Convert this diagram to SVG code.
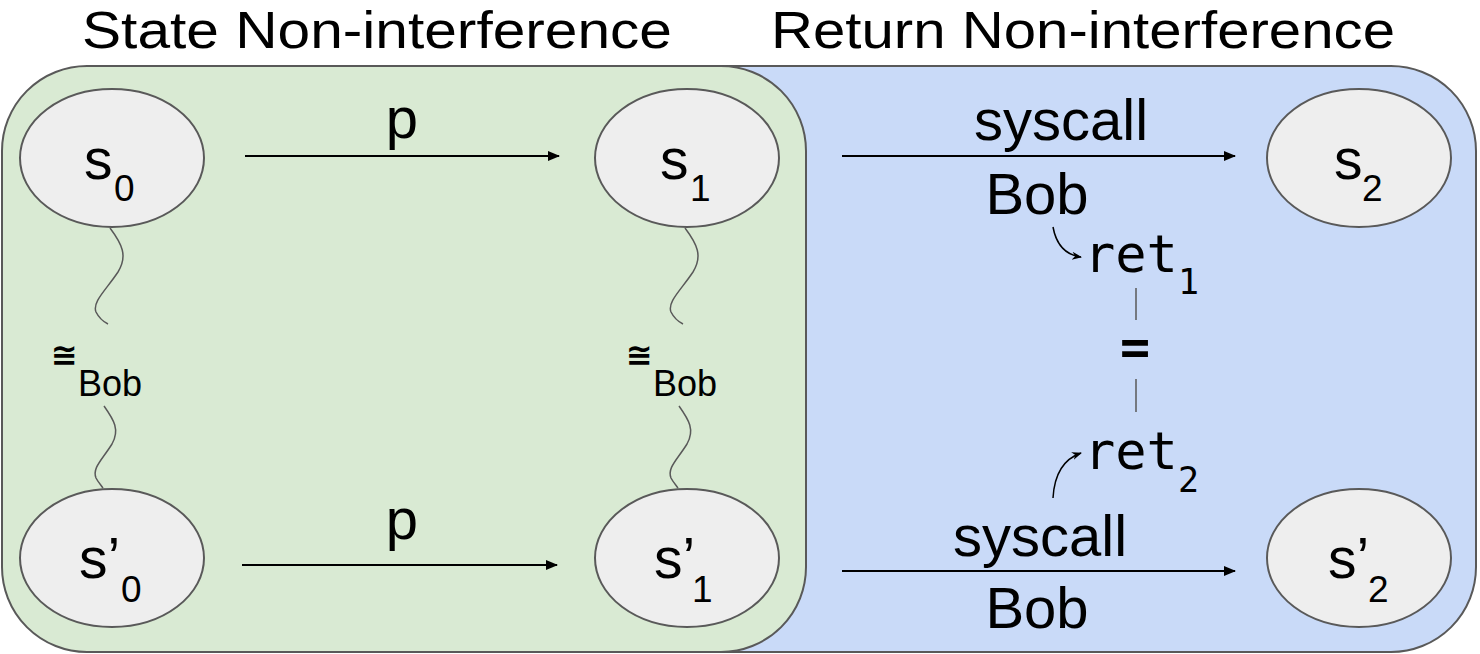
<svg xmlns="http://www.w3.org/2000/svg" width="1480" height="654" viewBox="0 0 1480 654">
  <style>
    .title { font-family: "Liberation Sans", Arial, sans-serif; font-size: 52px; fill: #000; }
    .lbl { font-family: "Liberation Sans", Arial, sans-serif; font-size: 58px; fill: #000; }
    .st { font-family: "Liberation Sans", Arial, sans-serif; font-size: 57px; fill: #000; }
    .sub { font-family: "Liberation Sans", Arial, sans-serif; font-size: 37px; fill: #000; }
    .eq { font-family: "DejaVu Sans", sans-serif; font-size: 32px; font-weight: bold; fill: #000; }
    .bob { font-family: "Liberation Sans", Arial, sans-serif; font-size: 36px; fill: #000; }
    .mono { font-family: "DejaVu Sans Mono", "Liberation Mono", monospace; font-size: 52px; fill: #000; }
    .monosub { font-family: "DejaVu Sans Mono", "Liberation Mono", monospace; font-size: 35px; fill: #000; }
    .region { stroke: #595959; stroke-width: 2; }
    .node { fill: #eeeeee; stroke: #595959; stroke-width: 2; }
    .edge { stroke: #000; stroke-width: 2; fill: none; }
    .wave { stroke: #595959; stroke-width: 1.5; fill: none; }
    .bar { stroke: #595959; stroke-width: 1.5; }
  </style>
  <defs>
    <marker id="arrow" viewBox="0 0 12 10" refX="11" refY="5" markerWidth="12" markerHeight="10" markerUnits="userSpaceOnUse" orient="auto">
      <path d="M0,0 L12,5 L0,10 Z" fill="#000"/>
    </marker>
    <marker id="arrowSmall" viewBox="0 0 10 10" refX="9" refY="5" markerWidth="10" markerHeight="10" markerUnits="userSpaceOnUse" orient="auto">
      <path d="M0,1 L10,5 L0,9 L3,5 Z" fill="#000"/>
    </marker>
  </defs>

  <!-- section titles -->
  <text class="title" x="82" y="48" textLength="590" lengthAdjust="spacingAndGlyphs">State Non-interference</text>
  <text class="title" x="771" y="48" textLength="624" lengthAdjust="spacingAndGlyphs">Return Non-interference</text>

  <!-- regions -->
  <g id="region-return">
    <rect class="region" x="300" y="66" width="1176" height="586" rx="85" ry="85" fill="#c9daf8"/>
  </g>
  <g id="region-state">
    <rect class="region" x="2" y="66" width="804" height="586" rx="85" ry="85" fill="#d9ead3"/>
  </g>

  <!-- connectors -->
  <g id="connectors">
    <line class="edge" x1="245" y1="156" x2="559" y2="156" marker-end="url(#arrow)"/>
    <line class="edge" x1="242" y1="565" x2="557" y2="565" marker-end="url(#arrow)"/>
    <line class="edge" x1="842" y1="156" x2="1235" y2="156" marker-end="url(#arrow)"/>
    <line class="edge" x1="842" y1="571" x2="1235" y2="571" marker-end="url(#arrow)"/>

    <!-- Bob-equivalence squiggles -->
    <path class="wave" d="M110,228 C122,244 128,256 118,272 C106,290 92,302 96,312 C99,318 104,322 108,324"/>
    <path class="wave" d="M104,406 C114,420 120,430 112,444 C102,460 92,468 96,478 C98,482 101,485 103,488"/>
    <path class="wave" d="M685,228 C697,244 703,256 693,272 C681,290 667,302 671,312 C674,318 679,322 683,324"/>
    <path class="wave" d="M679,406 C689,420 695,430 687,444 C677,460 667,468 671,478 C673,482 676,485 678,488"/>

    <!-- return value arrows and equality bars -->
    <path class="edge" style="stroke-width:1.5" d="M1053,227 Q1058,254 1081,257" marker-end="url(#arrowSmall)"/>
    <path class="edge" style="stroke-width:1.5" d="M1053,498 Q1055,462 1081,453" marker-end="url(#arrowSmall)"/>
    <line class="bar" x1="1136" y1="288" x2="1136" y2="320"/>
    <line class="bar" x1="1136" y1="379" x2="1136" y2="412"/>
  </g>

  <!-- states -->
  <g id="node-s0">
    <ellipse class="node" cx="112" cy="158" rx="92" ry="69"/>
    <text class="st" x="84" y="179">s</text>
    <text class="sub" x="114" y="201">0</text>
  </g>
  <g id="node-s1">
    <ellipse class="node" cx="687" cy="158" rx="92" ry="69"/>
    <text class="st" x="660" y="179">s</text>
    <text class="sub" x="690" y="201">1</text>
  </g>
  <g id="node-s2">
    <ellipse class="node" cx="1359" cy="158" rx="92" ry="69"/>
    <text class="st" x="1334" y="179">s</text>
    <text class="sub" x="1362" y="201">2</text>
  </g>
  <g id="node-s0p">
    <ellipse class="node" cx="112" cy="558" rx="92" ry="69"/>
    <text class="st" x="79" y="578">s’</text>
    <text class="sub" x="121" y="602">0</text>
  </g>
  <g id="node-s1p">
    <ellipse class="node" cx="687" cy="558" rx="92" ry="69"/>
    <text class="st" x="654" y="578">s’</text>
    <text class="sub" x="692" y="602">1</text>
  </g>
  <g id="node-s2p">
    <ellipse class="node" cx="1359" cy="558" rx="92" ry="69"/>
    <text class="st" x="1328" y="578">s’</text>
    <text class="sub" x="1368" y="602">2</text>
  </g>

  <!-- edge labels -->
  <g id="labels">
    <text class="lbl" x="402" y="138" text-anchor="middle">p</text>
    <text class="lbl" x="402" y="539" text-anchor="middle">p</text>
    <text class="lbl" x="1061" y="140" text-anchor="middle">syscall</text>
    <text class="lbl" x="1037" y="214" text-anchor="middle">Bob</text>
    <text class="lbl" x="1040" y="556" text-anchor="middle">syscall</text>
    <text class="lbl" x="1037" y="628" text-anchor="middle">Bob</text>

    <text class="eq" x="51" y="366">≅</text>
    <text class="bob" x="78" y="396">Bob</text>
    <text class="eq" x="626" y="366">≅</text>
    <text class="bob" x="653" y="396">Bob</text>

    <text class="mono" x="1084" y="272">ret</text>
    <text class="monosub" x="1178" y="294">1</text>
    <text class="mono" x="1135" y="364" text-anchor="middle" style="font-size:50px;font-weight:bold">=</text>
    <text class="mono" x="1084" y="469">ret</text>
    <text class="monosub" x="1178" y="492">2</text>
  </g>
</svg>
